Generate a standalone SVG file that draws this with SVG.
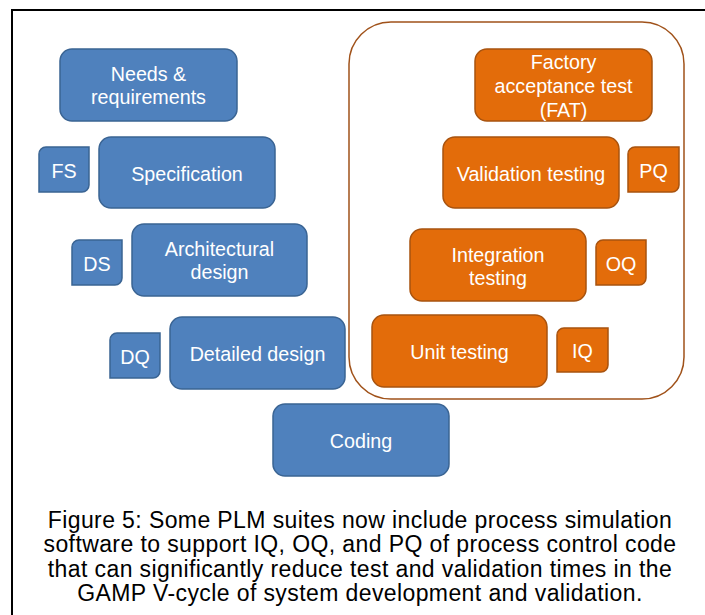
<svg xmlns="http://www.w3.org/2000/svg" width="705" height="615" viewBox="0 0 705 615">
<style>
  .blue { fill: #4F81BD; stroke: #3A6493; stroke-width: 1.5; }
  .orange { fill: #E36C0A; stroke: #A8530F; stroke-width: 1.5; }
  .lbl { font-family: "Liberation Sans", Arial, sans-serif; font-size: 19.7px; fill: #FFFFFF; text-anchor: middle; }
  .cap { font-family: "Liberation Sans", Arial, sans-serif; font-size: 23px; letter-spacing: 0.4px; fill: #000000; text-anchor: middle; }
</style>
<rect width="705" height="615" fill="#FFFFFF"/>
<rect x="12" y="10" width="720" height="640" fill="none" stroke="#000000" stroke-width="2"/>
<rect id="test-group" x="349" y="22" width="335" height="377" rx="42" ry="42" fill="none" stroke="#A0521A" stroke-width="1.5"/>
<g id="connectors"></g>
<g id="needs">
  <rect class="blue" x="60" y="49" width="177" height="72" rx="12"/>
  <text class="lbl" x="148.5" y="81">Needs &amp;</text>
  <text class="lbl" x="148.5" y="104">requirements</text>
</g>
<g id="fs">
  <path class="blue" d="M46,147 H89 V185 A7,7 0 0 1 82,192 H39 V154 A7,7 0 0 1 46,147 Z"/>
  <text class="lbl" x="64" y="178">FS</text>
</g>
<g id="specification">
  <rect class="blue" x="99" y="137" width="176" height="71" rx="12"/>
  <text class="lbl" x="187" y="181">Specification</text>
</g>
<g id="ds">
  <path class="blue" d="M79,240 H122 V278 A7,7 0 0 1 115,285 H72 V247 A7,7 0 0 1 79,240 Z"/>
  <text class="lbl" x="97" y="271">DS</text>
</g>
<g id="architectural">
  <rect class="blue" x="132" y="224" width="175" height="72" rx="12"/>
  <text class="lbl" x="219.5" y="256">Architectural</text>
  <text class="lbl" x="219.5" y="279">design</text>
</g>
<g id="dq">
  <path class="blue" d="M117,333 H160 V371 A7,7 0 0 1 153,378 H110 V340 A7,7 0 0 1 117,333 Z"/>
  <text class="lbl" x="135" y="364">DQ</text>
</g>
<g id="detailed">
  <rect class="blue" x="170" y="317" width="175" height="72" rx="12"/>
  <text class="lbl" x="257.5" y="361">Detailed design</text>
</g>
<g id="coding">
  <rect class="blue" x="273" y="404" width="176" height="72" rx="12"/>
  <text class="lbl" x="361" y="448">Coding</text>
</g>
<g id="fat">
  <rect class="orange" x="475" y="49" width="177" height="72" rx="12"/>
  <text class="lbl" x="563.5" y="69">Factory</text>
  <text class="lbl" x="563.5" y="93">acceptance test</text>
  <text class="lbl" x="563.5" y="117">(FAT)</text>
</g>
<g id="validation">
  <rect class="orange" x="443" y="137" width="176" height="71" rx="12"/>
  <text class="lbl" x="531" y="181">Validation testing</text>
</g>
<g id="pq">
  <path class="orange" d="M635,147 H679 V185 A7,7 0 0 1 672,192 H628 V154 A7,7 0 0 1 635,147 Z"/>
  <text class="lbl" x="653.5" y="178">PQ</text>
</g>
<g id="integration">
  <rect class="orange" x="410" y="229" width="176" height="72" rx="12"/>
  <text class="lbl" x="498" y="262">Integration</text>
  <text class="lbl" x="498" y="285">testing</text>
</g>
<g id="oq">
  <path class="orange" d="M603,240 H646 V278 A7,7 0 0 1 639,285 H596 V247 A7,7 0 0 1 603,240 Z"/>
  <text class="lbl" x="621" y="271">OQ</text>
</g>
<g id="unit">
  <rect class="orange" x="372" y="315" width="175" height="72" rx="12"/>
  <text class="lbl" x="459.5" y="359">Unit testing</text>
</g>
<g id="iq">
  <path class="orange" d="M564,328 H608 V365 A7,7 0 0 1 601,372 H557 V335 A7,7 0 0 1 564,328 Z"/>
  <text class="lbl" x="582.5" y="358">IQ</text>
</g>
<g id="caption">
  <text class="cap" x="360" y="528">Figure 5: Some PLM suites now include process simulation</text>
  <text class="cap" x="360" y="552">software to support IQ, OQ, and PQ of process control code</text>
  <text class="cap" x="360" y="577">that can significantly reduce test and validation times in the</text>
  <text class="cap" x="360" y="601">GAMP V-cycle of system development and validation.</text>
</g>
</svg>
